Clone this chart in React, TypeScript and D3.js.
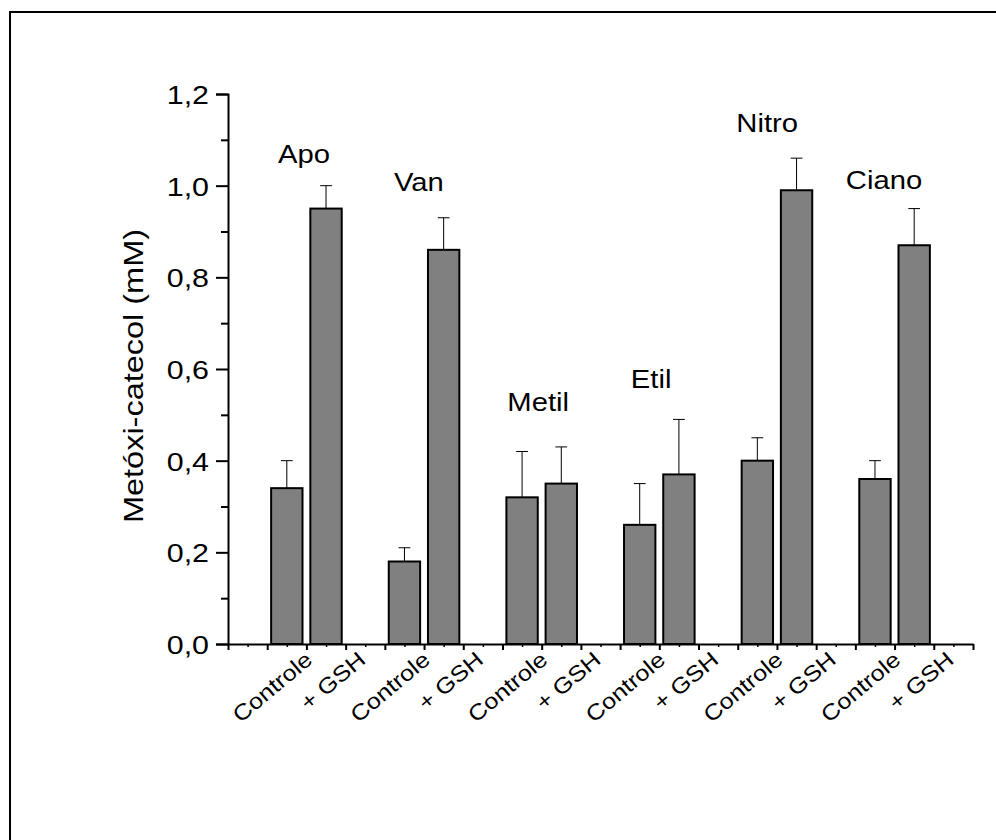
import React, { useEffect, useRef } from "react";
import * as d3 from "d3";

// values
const groups = ["Apo", "Van", "Metil", "Etil", "Nitro", "Ciano"];
const conditions = ["Controle", "+ GSH"];
const controle = [0.34, 0.18, 0.32, 0.26, 0.4, 0.36];
const controleErr = [0.06, 0.03, 0.1, 0.09, 0.05, 0.04];
const gsh = [0.95, 0.86, 0.35, 0.37, 0.99, 0.87];
const gshErr = [0.05, 0.07, 0.08, 0.12, 0.07, 0.08];
// where the group names sit, in axis units
const labelX = [1.94, 4.87, 7.91, 10.79, 13.75, 16.73];
const labelY = [1.05, 0.988, 0.509, 0.559, 1.117, 0.993];
const yMajor = [0, 0.2, 0.4, 0.6, 0.8, 1.0, 1.2];
const yMinor = [0.1, 0.3, 0.5, 0.7, 0.9, 1.1];

const FONT = "'Liberation Sans', Arial, sans-serif";
const WIDE = 1.17;

const App = () => {
  const ref = useRef<SVGSVGElement>(null);

  useEffect(() => {
    const width = 996;
    const height = 840;
    const svg = d3.select(ref.current).attr("width", width).attr("height", height);
    svg.selectAll("*").remove();

    const x = d3.scaleLinear().domain([0, 19]).range([228, 973]);
    const y = d3.scaleLinear().domain([0, 1.2]).range([644, 94]);
    const fmt = d3.formatLocale({ decimal: ",", thousands: ".", grouping: [3], currency: ["", ""] }).format(".1f");

    svg.append("rect").attr("width", width).attr("height", height).attr("fill", "white");
    // outer frame (runs off the page on right and bottom)
    svg.append("rect")
      .attr("x", 10).attr("y", 12).attr("width", 1100).attr("height", 1000)
      .attr("fill", "none").attr("stroke", "black").attr("stroke-width", 2);

    const rows = groups.flatMap((g, i) => [
      { g, i, j: 0, v: controle[i], e: controleErr[i] },
      { g, i, j: 1, v: gsh[i], e: gshErr[i] },
    ]);
    const pos = (d: any) => 1.5 + 3 * d.i + d.j;
    const barW = 0.8;

    // error bars (upper only)
    const eb = svg.append("g").attr("stroke", "black").attr("stroke-width", 1);
    eb.selectAll("line.v").data(rows).join("line")
      .attr("x1", d => x(pos(d))).attr("x2", d => x(pos(d)))
      .attr("y1", d => y(d.v)).attr("y2", d => y(d.v + d.e));
    eb.selectAll("line.c").data(rows).join("line")
      .attr("x1", d => x(pos(d) - 0.15)).attr("x2", d => x(pos(d) + 0.15))
      .attr("y1", d => y(d.v + d.e)).attr("y2", d => y(d.v + d.e));

    svg.append("g").selectAll("rect").data(rows).join("rect")
      .attr("x", d => x(pos(d) - barW / 2))
      .attr("width", d => x(pos(d) + barW / 2) - x(pos(d) - barW / 2))
      .attr("y", d => y(d.v))
      .attr("height", d => y(0) - y(d.v))
      .attr("fill", "#808080").attr("stroke", "black").attr("stroke-width", 2);

    // y axis
    const yAxis = svg.append("g").attr("transform", `translate(${x(0)},0)`)
      .call(d3.axisLeft(y).tickValues(yMajor).tickSize(12).tickPadding(7).tickFormat(d => fmt(+d)));
    yAxis.select(".domain").attr("stroke-width", 2);
    yAxis.selectAll(".tick line").attr("stroke-width", 2);
    yAxis.selectAll(".tick text")
      .attr("font-family", FONT).attr("font-size", 26).attr("fill", "black")
      .attr("x", -19 / WIDE).attr("dy", "0.36em")
      .attr("transform", `scale(${WIDE},1)`);
    const yMin = svg.append("g").attr("transform", `translate(${x(0)},0)`)
      .call(d3.axisLeft(y).tickValues(yMinor).tickSize(7).tickFormat(() => ""));
    yMin.select(".domain").remove();
    yMin.selectAll(".tick line").attr("stroke-width", 2);

    // x axis
    const xAxis = svg.append("g").attr("transform", `translate(0,${y(0)})`)
      .call(d3.axisBottom(x).tickValues(d3.range(0, 20)).tickSize(6).tickSizeOuter(0).tickFormat(() => ""));
    xAxis.select(".domain").attr("stroke-width", 2);
    xAxis.selectAll(".tick line").attr("stroke-width", 2);
    const xMin = svg.append("g").attr("transform", `translate(0,${y(0)})`)
      .call(d3.axisBottom(x).tickValues(d3.range(0.5, 19, 1)).tickSize(3).tickFormat(() => ""));
    xMin.select(".domain").remove();
    xMin.selectAll(".tick line").attr("stroke-width", 1.5);

    // rotated category labels
    svg.append("g").selectAll("text").data(rows).join("text")
      .attr("transform", d => `translate(${x(pos(d)) + (d.j === 0 ? 27 : 41)},${y(0) + 18}) rotate(-40) scale(1.15,1)`)
      .attr("text-anchor", "end")
      .attr("font-family", FONT).attr("font-size", 22)
      .text(d => conditions[d.j]);

    // group names
    svg.append("g").selectAll("text").data(groups).join("text")
      .attr("transform", (d, i) => `translate(${x(labelX[i])},${y(labelY[i])}) scale(${WIDE},1)`)
      .attr("text-anchor", "middle")
      .attr("font-family", FONT).attr("font-size", 25)
      .text(d => d);

    // y title
    svg.append("text")
      .attr("transform", `translate(143,376) rotate(-90) scale(1.16,1)`)
      .attr("text-anchor", "middle")
      .attr("font-family", FONT).attr("font-size", 28)
      .text("Metóxi-catecol (mM)");
  }, []);

  return (
    <div style={{ position: "absolute", left: 0, top: 0 }}>
      <svg ref={ref} style={{ display: "block" }} />
    </div>
  );
};

export default App;
